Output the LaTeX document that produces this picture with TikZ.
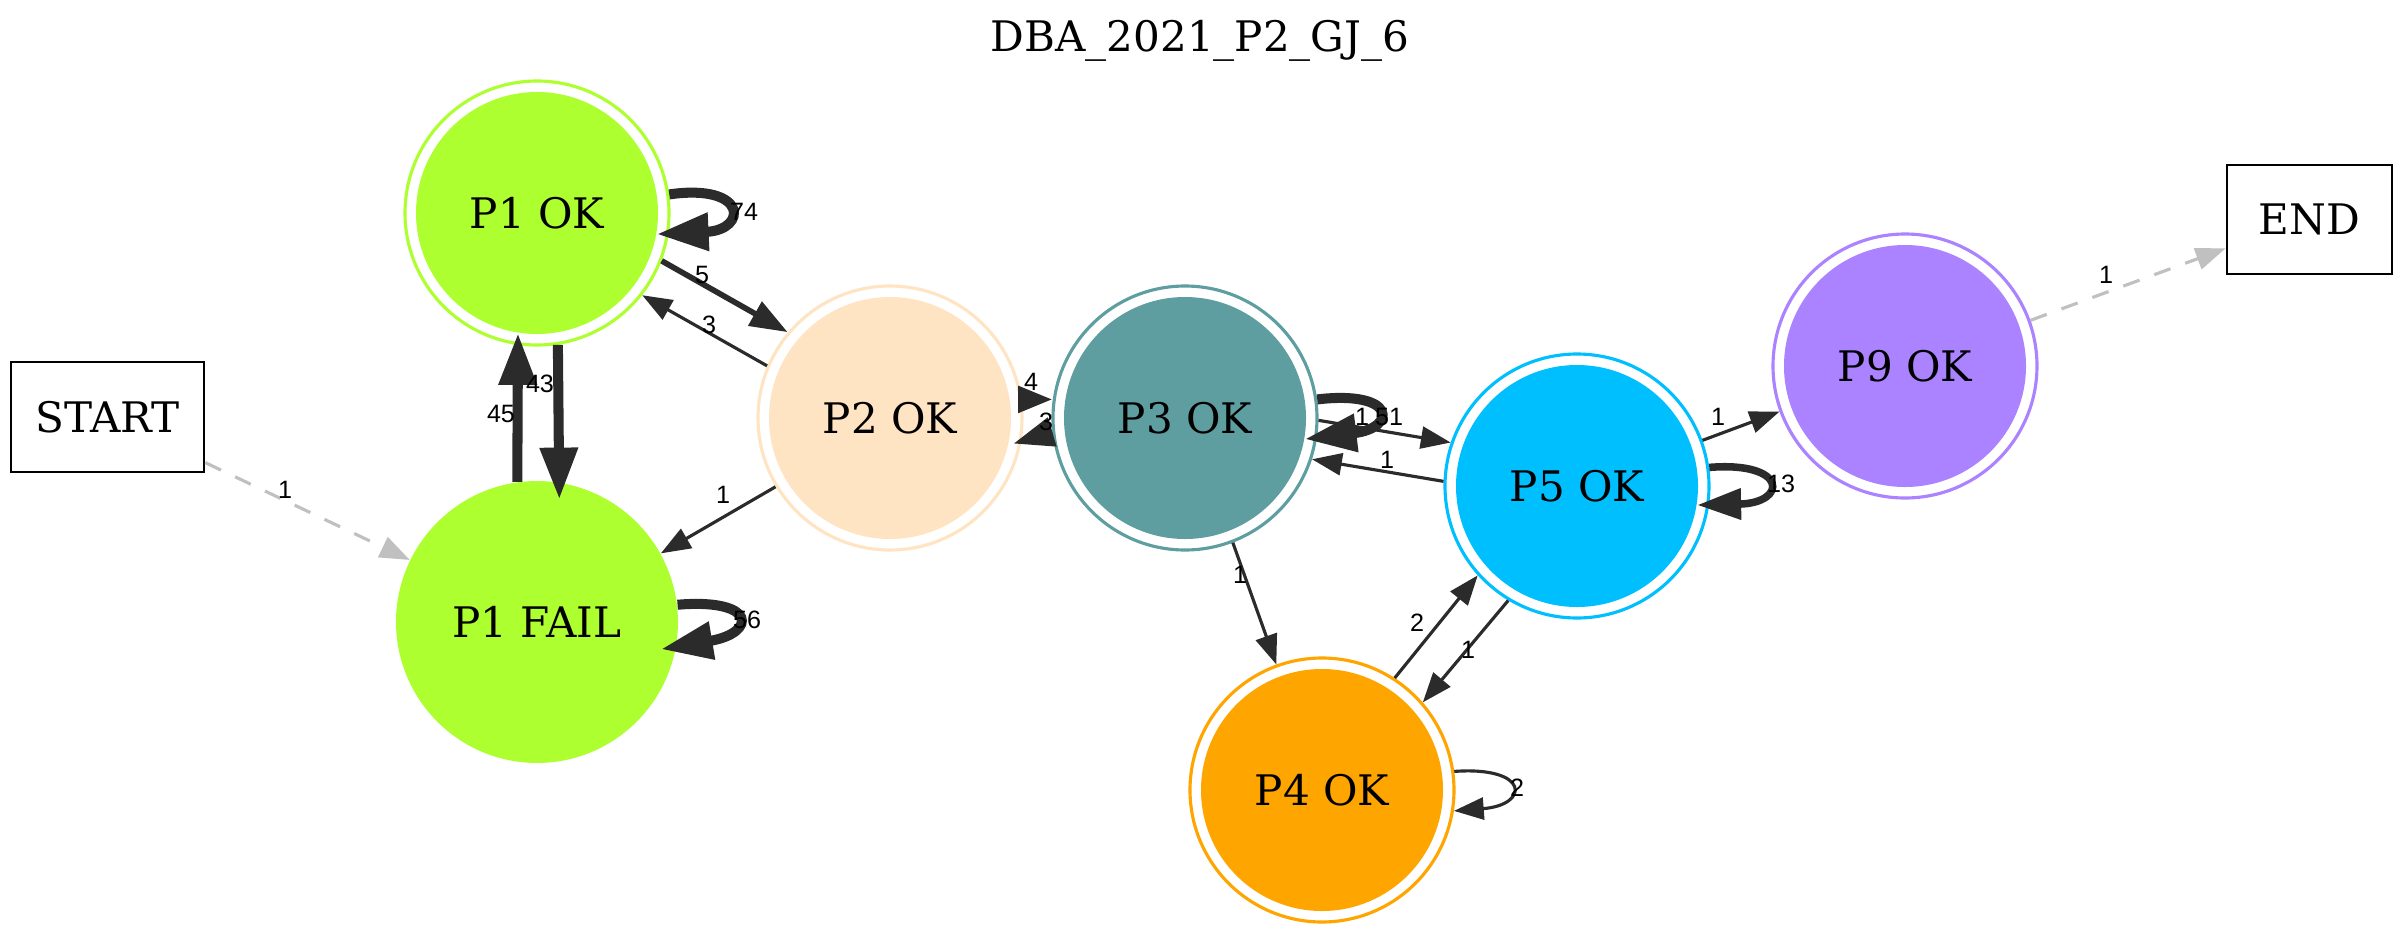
\documentclass[tikz,border=0pt]{standalone}
\usepackage{fontspec}
\setmainfont{DejaVu Serif}
\newfontfamily\lblfont{Liberation Sans}
\usetikzlibrary{arrows.meta,calc}
\definecolor{greenyel}{HTML}{ADFF2F}
\definecolor{bisq}{HTML}{FFE4C4}
\definecolor{cadet}{HTML}{5F9EA0}
\definecolor{dsky}{HTML}{00BFFF}
\definecolor{orng}{HTML}{FFA500}
\definecolor{mpurp}{HTML}{AB82FF}
\definecolor{edgec}{HTML}{2B2B2B}
\definecolor{dashc}{HTML}{C0C0C0}
\newcommand\nodefnt{\fontsize{13.4}{16}\selectfont}
\newcommand\lblfnt{\lblfont\fontsize{8}{9}\selectfont}
\tikzset{
  outerring/.style={circle, draw, line width=1pt, minimum size=84.08pt, inner sep=0pt},
  innerdisk/.style={circle, draw=none, minimum size=77.08pt, inner sep=0pt, font=\nodefnt},
  boxnode/.style={rectangle, draw=black, line width=0.85pt, inner sep=0pt, font=\nodefnt},
  eone/.style={draw=edgec, line width=1pt, -{Triangle[length=9.5pt,width=7pt]}},
  etwo/.style={draw=edgec, line width=1.8pt, -{Triangle[length=12pt,width=8.5pt]}},
  ethree/.style={draw=edgec, line width=3.2pt, -{Triangle[length=16.5pt,width=11.5pt]}},
  etwofive/.style={draw=edgec, line width=2.4pt, -{Triangle[length=14pt,width=9.5pt]}},
  efour/.style={draw=edgec, line width=2.4pt, -{Triangle[length=11pt,width=8pt]}},
  efourb/.style={draw=edgec, line width=2.4pt, -{Triangle[length=13pt,width=9pt]}},
  dashe/.style={draw=dashc, line width=1pt, dash pattern=on 5.5pt off 5pt, -{Triangle[length=9.5pt,width=7pt,fill=dashc]}},
  lbl/.style={font=\lblfnt, inner sep=0pt, text=black},
}
\begin{document}
\begin{tikzpicture}[x=0.3185pt,y=-0.3185pt]
\useasboundingbox (0,0) rectangle (2400,936);
% title
\node[font=\nodefnt] (title) at (1200,41) {DBA\_2021\_P2\_GJ\_6};
% nodes
\node[boxnode, minimum width=61.5pt, minimum height=35pt] (start) at (107.5,417) {START};
\node[boxnode, minimum width=52.6pt, minimum height=34.7pt] (fin) at (2309.5,219.5) {END};

\node[outerring, draw=greenyel] (p1) at (537,213) {};
\node[innerdisk, fill=greenyel] (p1i) at (537,213) {P1 OK};

\node[circle, fill=greenyel, minimum size=89.8pt, inner sep=0pt, font=\nodefnt] (pf) at (537,622) {P1 FAIL};

\node[outerring, draw=bisq] (p2) at (890,418) {};
\node[innerdisk, fill=bisq] (p2i) at (890,418) {P2 OK};

\node[outerring, draw=cadet] (p3) at (1185,418) {};
\node[innerdisk, fill=cadet] (p3i) at (1185,418) {P3 OK};

\node[outerring, draw=dsky] (p5) at (1577,486) {};
\node[innerdisk, fill=dsky] (p5i) at (1577,486) {P5 OK};

\node[outerring, draw=orng] (p4) at (1322,790) {};
\node[innerdisk, fill=orng] (p4i) at (1322,790) {P4 OK};

\node[outerring, draw=mpurp] (p9) at (1905,366) {};
\node[innerdisk, fill=mpurp] (p9i) at (1905,366) {P9 OK};

% edges
\draw[dashe] (start.-25.5) -- (pf.154.6);
\draw[ethree] (p1.8.7) .. controls (748,183) and (748,230) .. (p1i.-10.8);
\draw[etwo] (p1.-21.4) -- (p2.140.4);
\draw[eone] (p2.157.5) -- (p1.-38.4);
\draw[ethree, shorten >=-5.5pt] (p1.-81.4) -- (pf.81.1);
\draw[ethree] (pf.98.2) -- (p1i.-99.4);
\draw[ethree, shorten >=-5pt] (pf.7.7) .. controls (757,598) and (757,633) .. (pf.-10.6);
\draw[eone] (p2.-149.3) -- (pf.29.7);
\draw[efour] (p2.8.1) -- (p3.172);
\draw[efourb, shorten >=-2.8pt] (p3.186.2) -- (p2.-10.4);
\draw[ethree] (p3.8.6) .. controls (1397,390) and (1397,428) .. (p3i.-10.6);
\draw[eone] (p3.-1.7) -- (p5.161.4);
\draw[eone] (p5.178.7) -- (p3.-18.7);
\draw[eone] (p3.-69.4) -- (p4.110.1);
\draw[eone] (p4.57.9) -- (p5.-138.1);
\draw[eone] (p5.-121.4) -- (p4.41);
\draw[eone] (p4.8.2) .. controls (1530,766) and (1530,805) .. (p4.-9.7);
\draw[eone] (p5.20) -- (p9.-160);
\draw[etwofive] (p5.8.3) .. controls (1788,461) and (1788,503) .. (p5i.-9.8);
\draw[dashe] (p9.20) -- (fin.199.9);

% edge labels
\node[lbl] (la) at (285,490) {1};
\node[lbl] (lb) at (744,212) {74};
\node[lbl] (lc) at (702,275) {5};
\node[lbl] (ld) at (709,325) {3};
\node[lbl] (le) at (540,384) {43};
\node[lbl] (lf) at (501,414) {45};
\node[lbl] (lg) at (747,620) {56};
\node[lbl] (lh) at (723,495) {1};
\node[lbl] (li) at (1031,382) {4};
\node[lbl] (lj) at (1046,422) {3};
\node[lbl] (lk) at (1362,417) {1};
\node[lbl] (ll) at (1389,417) {51};
\node[lbl] (lm) at (1387,460) {1};
\node[lbl] (ln) at (1240,575) {1};
\node[lbl] (lo) at (1417,623) {2};
\node[lbl] (lp) at (1468,650) {1};
\node[lbl] (lq) at (1517,788) {2};
\node[lbl] (lr) at (1718,417) {1};
\node[lbl] (ls) at (1781,484) {13};
\node[lbl] (lt) at (2106,275) {1};
\end{tikzpicture}
\end{document}
